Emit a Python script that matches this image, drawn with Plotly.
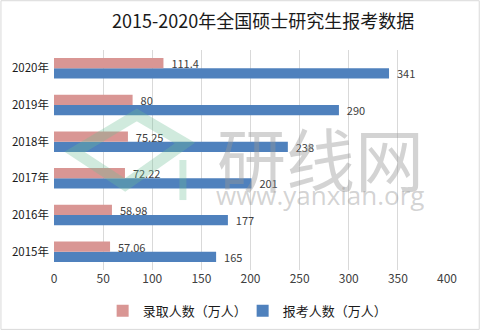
import plotly.graph_objects as go

years = ["2015年", "2016年", "2017年", "2018年", "2019年", "2020年"]
admitted = [57.06, 58.98, 72.22, 75.25, 80, 111.4]
applicants = [165, 177, 201, 238, 290, 341]
x_ticks = [0, 50, 100, 150, 200, 250, 300, 350, 400]

font_cn = "Noto Sans CJK SC, Microsoft YaHei, sans-serif"

fig = go.Figure()
fig.add_trace(go.Bar(
    y=years, x=applicants, orientation="h", name="报考人数（万人）",
    marker=dict(color="#4F81BD", line=dict(width=0)),
    text=[f"  {v:g}" for v in applicants], textposition="outside",
    textfont=dict(size=11, color="#404040", family=font_cn),
    constraintext="none", cliponaxis=False, legendrank=2,
))
fig.add_trace(go.Bar(
    y=years, x=admitted, orientation="h", name="录取人数（万人）",
    marker=dict(color="#D99694", line=dict(width=0)),
    text=[f"  {v:g}" for v in admitted], textposition="outside",
    textfont=dict(size=11, color="#404040", family=font_cn),
    constraintext="none", cliponaxis=False, legendrank=1,
))

wm = "rgba(150,150,150,0.42)"
green = "rgba(110,190,150,0.32)"

fig.update_layout(
    width=481, height=330,
    margin=dict(l=54, r=34, t=50, b=60, autoexpand=False),
    paper_bgcolor="white", plot_bgcolor="white",
    barmode="group", bargap=0.44, bargroupgap=0,
    font=dict(family=font_cn, color="#404040", size=12),
    title=dict(text="2015-2020年全国硕士研究生报考数据", x=0.547, xanchor="center",
               xref="container", y=0.935, yanchor="middle",
               font=dict(size=18, color="#1a1a1a", family=font_cn)),
    xaxis=dict(range=[0, 400], tickvals=x_ticks, showgrid=True, gridcolor="#D9D9D9",
               gridwidth=1, zeroline=False, showline=False, ticks="",
               tickfont=dict(size=12, color="#404040"), fixedrange=True),
    yaxis=dict(showgrid=False, showline=False, ticks="", zeroline=False,
               tickfont=dict(size=11.5, color="#1a1a1a"), ticklabelstandoff=4),
    legend=dict(orientation="h", x=0.48, xanchor="center", y=-0.186, yanchor="middle",
                font=dict(size=13, color="#1a1a1a"), itemwidth=30,
                entrywidth=95, entrywidthmode="pixels"),
    showlegend=True,
    annotations=[
        dict(text="研线网", xref="paper", yref="paper", x=0.677, y=0.515, showarrow=False,
             xanchor="center", yanchor="middle",
             font=dict(size=69, color=wm, family=font_cn)),
        dict(text="www.yanxian.org", xref="paper", yref="paper", x=0.677, y=0.34, showarrow=False,
             xanchor="center", yanchor="middle",
             font=dict(size=26, color=wm, family="Open Sans, sans-serif")),
    ],
    shapes=[
        dict(type="path", xref="paper", yref="paper", layer="above",
             path="M 0.211,0.705 L 0.333,0.577 L 0.181,0.386 L 0.053,0.536 Z",
             line=dict(color=green, width=11), fillcolor="rgba(0,0,0,0)"),
        dict(type="line", xref="paper", yref="paper", layer="above",
             x0=0.328, x1=0.328, y0=0.5, y1=0.318, line=dict(color=green, width=7)),
        dict(type="rect", xref="paper", yref="paper", x0=-0.135, x1=1.082, y0=-0.27, y1=1.224,
             line=dict(color="#D9D9D9", width=1)),
    ],
)

fig.write_html("out.html")
